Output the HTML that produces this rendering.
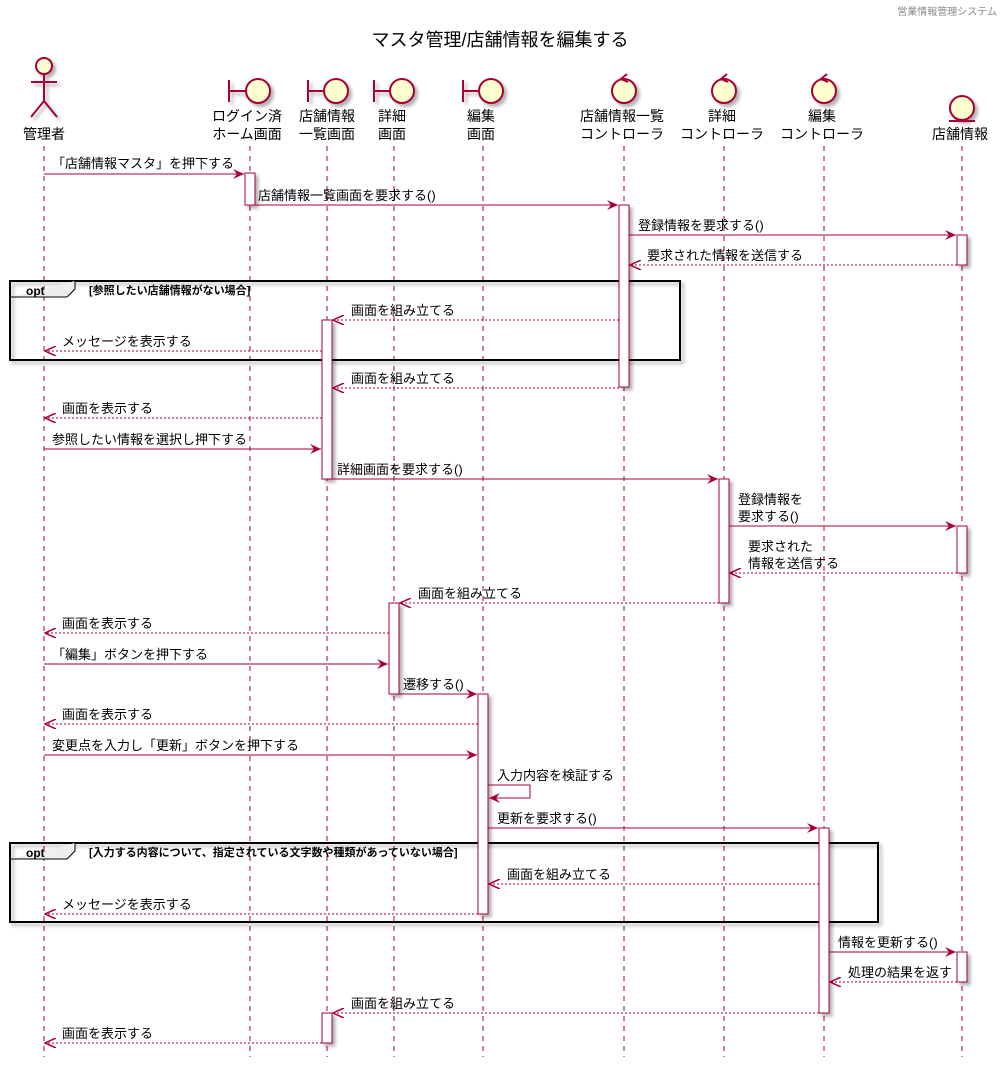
<!DOCTYPE html>
<html><head><meta charset="utf-8"><style>
body{margin:0;background:#fff}
svg{display:block;font-family:"Liberation Sans","Noto Sans CJK JP",sans-serif}
.ll{stroke:#A80036;stroke-width:1;stroke-dasharray:5,5}
.m{stroke:#A80036;stroke-width:1;fill:none}
.d{stroke:#A80036;stroke-width:1;fill:none;stroke-dasharray:2,2}
.act{fill:#fff;stroke:#A80036;stroke-width:1}
.ic{fill:#FEFECE;stroke:#A80036;stroke-width:2}
text{font-size:13px;fill:#000}
.pl{font-size:14px}
</style></head><body>
<svg width="1004" height="1067" xmlns="http://www.w3.org/2000/svg">
<defs>
<filter id="sh" x="-20%" y="-20%" width="150%" height="150%"><feDropShadow dx="3" dy="3" stdDeviation="1.5" flood-color="#000" flood-opacity="0.3"/></filter>
<marker id="a" markerWidth="12" markerHeight="10" refX="11" refY="5" orient="auto" markerUnits="userSpaceOnUse"><path d="M0,0 L11,5 L0,10 L4,5 Z" fill="#A80036"/></marker>
<marker id="o" markerWidth="12" markerHeight="10" refX="11" refY="5" orient="auto" markerUnits="userSpaceOnUse"><path d="M0,0 L11,5 L0,10" fill="none" stroke="#A80036" stroke-width="1.5"/></marker>
</defs>
<text x="997" y="15" text-anchor="end" style="font-size:10px;fill:#888">営業情報管理システム</text>
<text x="500" y="46" text-anchor="middle" style="font-size:18px">マスタ管理/店舗情報を編集する</text>

<g class="ll">
<line x1="44" y1="146" x2="44" y2="1057"/><line x1="250" y1="146" x2="250" y2="1057"/>
<line x1="327" y1="146" x2="327" y2="1057"/><line x1="394" y1="146" x2="394" y2="1057"/>
<line x1="483" y1="146" x2="483" y2="1057"/><line x1="624" y1="146" x2="624" y2="1057"/>
<line x1="724" y1="146" x2="724" y2="1057"/><line x1="824" y1="146" x2="824" y2="1057"/>
<line x1="962" y1="146" x2="962" y2="1057"/>
</g>

<g filter="url(#sh)">
<g class="ic"><circle cx="44" cy="66" r="8"/></g>
<path d="M44,74 V101 M31,82 H57 M44,101 L31,117 M44,101 L57,117" stroke="#A80036" stroke-width="2" fill="none"/>
<g class="ic">
<path d="M229,80 V102 M229,91 H246" fill="none"/><circle cx="258" cy="91" r="12"/>
<path d="M308,80 V102 M308,91 H324" fill="none"/><circle cx="336" cy="91" r="12"/>
<path d="M374,80 V102 M374,91 H390" fill="none"/><circle cx="402" cy="91" r="12"/>
<path d="M463,80 V102 M463,91 H479" fill="none"/><circle cx="491" cy="91" r="12"/>
<circle cx="624" cy="91" r="12"/><circle cx="724" cy="91" r="12"/><circle cx="824" cy="91" r="12"/>
<circle cx="962" cy="108" r="12"/>
</g>
</g>
<path d="M627,74 L621,79 L628,82 M727,74 L721,79 L728,82 M827,74 L821,79 L828,82" stroke="#A80036" stroke-width="2" fill="none"/>
<line x1="949" y1="121" x2="975" y2="121" stroke="#A80036" stroke-width="2"/>
<g text-anchor="middle">
<text class="pl" x="44" y="139">管理者</text>
<text class="pl" x="247" y="121">ログイン済</text><text class="pl" x="247" y="139">ホーム画面</text>
<text class="pl" x="327" y="121">店舗情報</text><text class="pl" x="327" y="139">一覧画面</text>
<text class="pl" x="392" y="121">詳細</text><text class="pl" x="392" y="139">画面</text>
<text class="pl" x="481" y="121">編集</text><text class="pl" x="481" y="139">画面</text>
<text class="pl" x="622" y="121">店舗情報一覧</text><text class="pl" x="622" y="139">コントローラ</text>
<text class="pl" x="722" y="121">詳細</text><text class="pl" x="722" y="139">コントローラ</text>
<text class="pl" x="822" y="121">編集</text><text class="pl" x="822" y="139">コントローラ</text>
<text class="pl" x="960" y="139">店舗情報</text>
</g>

<g filter="url(#sh)">
<rect x="10" y="281" width="670" height="79" fill="none" stroke="#000" stroke-width="2"/>
<rect x="10" y="843" width="868" height="79" fill="none" stroke="#000" stroke-width="2"/>
</g>
<path d="M10,297 H67 L75,289 V281" fill="#eee" stroke="#000" stroke-width="1"/>
<path d="M10,859 H67 L75,851 V843" fill="#eee" stroke="#000" stroke-width="1"/>
<text x="26" y="295" style="font-size:12px;font-weight:bold">opt</text>
<text x="89" y="294" style="font-size:11px;font-weight:bold">[参照したい店舗情報がない場合]</text>
<text x="26" y="857" style="font-size:12px;font-weight:bold">opt</text>
<text x="89" y="856" style="font-size:11px;font-weight:bold">[入力する内容について、指定されている文字数や種類があっていない場合]</text>

<g class="act" filter="url(#sh)">
<rect x="245" y="173" width="10" height="32"/>
<rect x="619" y="205" width="10" height="182"/>
<rect x="957" y="235" width="10" height="30"/>
<rect x="322" y="320" width="10" height="159"/>
<rect x="719" y="479" width="10" height="124"/>
<rect x="957" y="526" width="10" height="47"/>
<rect x="389" y="603" width="10" height="91"/>
<rect x="478" y="694" width="10" height="220"/>
<rect x="819" y="828" width="10" height="185"/>
<rect x="957" y="952" width="10" height="30"/>
<rect x="322" y="1013" width="10" height="30"/>
</g>

<g>
<line class="m" x1="44" y1="174" x2="244" y2="174" marker-end="url(#a)"/><text x="52" y="168">「店舗情報マスタ」を押下する</text>
<line class="m" x1="255" y1="205" x2="618" y2="205" marker-end="url(#a)"/><text x="258" y="200">店舗情報一覧画面を要求する()</text>
<line class="m" x1="629" y1="235" x2="956" y2="235" marker-end="url(#a)"/><text x="638" y="230">登録情報を要求する()</text>
<line class="d" x1="957" y1="265" x2="630" y2="265" marker-end="url(#o)"/><text x="647" y="260">要求された情報を送信する</text>
<line class="d" x1="619" y1="320" x2="333" y2="320" marker-end="url(#o)"/><text x="351" y="315">画面を組み立てる</text>
<line class="d" x1="322" y1="351" x2="45" y2="351" marker-end="url(#o)"/><text x="62" y="346">メッセージを表示する</text>
<line class="d" x1="619" y1="388" x2="333" y2="388" marker-end="url(#o)"/><text x="351" y="383">画面を組み立てる</text>
<line class="d" x1="322" y1="418" x2="45" y2="418" marker-end="url(#o)"/><text x="62" y="413">画面を表示する</text>
<line class="m" x1="44" y1="449" x2="321" y2="449" marker-end="url(#a)"/><text x="52" y="444">参照したい情報を選択し押下する</text>
<line class="m" x1="332" y1="479" x2="718" y2="479" marker-end="url(#a)"/><text x="337" y="474">詳細画面を要求する()</text>
<line class="m" x1="729" y1="526" x2="956" y2="526" marker-end="url(#a)"/><text x="738" y="504">登録情報を</text><text x="738" y="521">要求する()</text>
<line class="d" x1="957" y1="573" x2="730" y2="573" marker-end="url(#o)"/><text x="748" y="551">要求された</text><text x="748" y="568">情報を送信する</text>
<line class="d" x1="719" y1="603" x2="400" y2="603" marker-end="url(#o)"/><text x="418" y="598">画面を組み立てる</text>
<line class="d" x1="389" y1="633" x2="45" y2="633" marker-end="url(#o)"/><text x="62" y="628">画面を表示する</text>
<line class="m" x1="44" y1="664" x2="388" y2="664" marker-end="url(#a)"/><text x="52" y="659">「編集」ボタンを押下する</text>
<line class="m" x1="399" y1="694" x2="477" y2="694" marker-end="url(#a)"/><text x="403" y="689">遷移する()</text>
<line class="d" x1="478" y1="724" x2="45" y2="724" marker-end="url(#o)"/><text x="62" y="719">画面を表示する</text>
<line class="m" x1="44" y1="755" x2="477" y2="755" marker-end="url(#a)"/><text x="52" y="750">変更点を入力し「更新」ボタンを押下する</text>
<path class="m" d="M488,785 H530 V798 H489" marker-end="url(#a)"/><text x="497" y="780">入力内容を検証する</text>
<line class="m" x1="488" y1="828" x2="818" y2="828" marker-end="url(#a)"/><text x="497" y="823">更新を要求する()</text>
<line class="d" x1="819" y1="884" x2="489" y2="884" marker-end="url(#o)"/><text x="507" y="879">画面を組み立てる</text>
<line class="d" x1="478" y1="914" x2="45" y2="914" marker-end="url(#o)"/><text x="62" y="909">メッセージを表示する</text>
<line class="m" x1="829" y1="952" x2="956" y2="952" marker-end="url(#a)"/><text x="838" y="947">情報を更新する()</text>
<line class="d" x1="957" y1="982" x2="830" y2="982" marker-end="url(#o)"/><text x="848" y="977">処理の結果を返す</text>
<line class="d" x1="819" y1="1013" x2="333" y2="1013" marker-end="url(#o)"/><text x="351" y="1008">画面を組み立てる</text>
<line class="d" x1="322" y1="1043" x2="45" y2="1043" marker-end="url(#o)"/><text x="62" y="1038">画面を表示する</text>
</g>
</svg>
</body></html>
